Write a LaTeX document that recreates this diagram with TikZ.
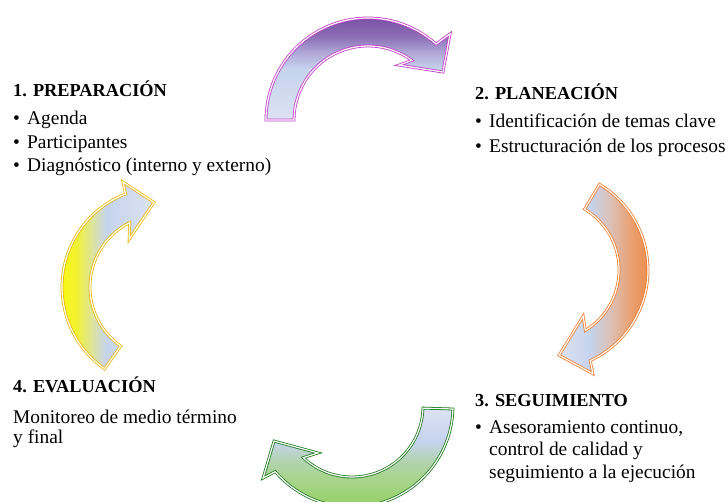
\documentclass[tikz,border=0pt]{standalone}
\usepackage{fontspec}
\setmainfont{Liberation Serif}
\usetikzlibrary{calc}

% fill colours of the four curved arrows
\definecolor{paleblue}{HTML}{DCE3F2}
\definecolor{midblue}{HTML}{C6D3EE}
\definecolor{pLav}{HTML}{B0A8D8}
\definecolor{pViolet}{HTML}{8C6EB6}
\definecolor{pDark}{HTML}{7A52A6}
\definecolor{oPeach}{HTML}{DCC0B4}
\definecolor{oLight}{HTML}{EAA070}
\definecolor{oDark}{HTML}{ED7D31}
\definecolor{gMix}{HTML}{B2D3B0}
\definecolor{gLight}{HTML}{A6D588}
\definecolor{gDark}{HTML}{92CF60}
\definecolor{yDark}{HTML}{FFFF00}
\definecolor{yLight}{HTML}{F2F230}
\definecolor{yMix}{HTML}{DDE3A0}
% outline colours
\definecolor{pLine}{HTML}{C040C8}
\definecolor{oLine}{HTML}{ED7D31}
\definecolor{gLine}{HTML}{1F7A1F}
\definecolor{yLine}{HTML}{E8B810}

% gradients (the 25bp--75bp band spans the filled shape)
\pgfdeclareverticalshading{purpleshade}{100bp}{color(0bp)=(paleblue); color(25bp)=(paleblue); color(50bp)=(midblue); color(58bp)=(pLav); color(66bp)=(pViolet); color(75bp)=(pDark); color(100bp)=(pDark)}
\pgfdeclarehorizontalshading{orangeshade}{100bp}{color(0bp)=(paleblue); color(25bp)=(paleblue); color(40bp)=(midblue); color(50bp)=(oPeach); color(60bp)=(oLight); color(75bp)=(oDark); color(100bp)=(oDark)}
\pgfdeclareverticalshading{greenshade}{100bp}{color(0bp)=(gDark); color(25bp)=(gDark); color(38.6bp)=(gLight); color(48.7bp)=(gMix); color(58.8bp)=(midblue); color(75bp)=(paleblue); color(100bp)=(paleblue)}
\pgfdeclarehorizontalshading{yellowshade}{100bp}{color(0bp)=(yDark); color(25bp)=(yDark); color(38bp)=(yLight); color(46bp)=(yMix); color(52.5bp)=(midblue); color(75bp)=(paleblue); color(100bp)=(paleblue)}

\tikzset{
  arrowbody/.style={line width=0.8pt, double=white, double distance=1.2pt, line join=miter, shade},
  purplearrow/.style={arrowbody, draw=pLine, shading=purpleshade},
  orangearrow/.style={arrowbody, draw=oLine, shading=orangeshade},
  greenarrow/.style={arrowbody, draw=gLine, shading=greenshade},
  yellowarrow/.style={arrowbody, draw=yLine, shading=yellowshade},
  headtext/.style={anchor=base west, inner sep=0pt, font=\fontsize{18.3}{20}\selectfont\bfseries},
  bodytext/.style={anchor=base west, inner sep=0pt, font=\fontsize{19.4}{22}\selectfont},
}

\begin{document}
\begin{tikzpicture}[x=1pt,y=1pt]
\useasboundingbox (0,0) rectangle (728,501);
\clip (0,0) rectangle (728,501);

% 1 -> 2 : purple arrow at the top
\begin{scope}[shift={(368,381)}]
  \path[purplearrow] (180:102) arc[start angle=180, end angle=48.1, radius=102]
    -- (46.4:119) -- (32.6:89) -- (60.6:63) -- (53.6:74)
    arc[start angle=53.6, end angle=180, radius=74] -- cycle;
\end{scope}

% 2 -> 3 : orange arrow on the right
\begin{scope}[shift={(548,231)}]
  \path[orangearrow] (59:100) arc[start angle=59, end angle=-65, radius=100]
    -- (-66.6:113) -- (-82.6:86) -- (-52.7:58) -- (-58.3:71)
    arc[start angle=-58.3, end angle=59, radius=71] -- cycle;
\end{scope}

% 3 -> 4 : green arrow at the bottom
\begin{scope}[shift={(352,95)}]
  \path[greenarrow] (-1.7:101) arc[start angle=-1.7, end angle=-139.5, radius=101]
    -- (-141:114.5) -- (-155.8:85.5) -- (-125.9:58) -- (-133.3:71)
    arc[start angle=-133.3, end angle=-1.7, radius=71] -- cycle;
\end{scope}

% 4 -> 1 : yellow arrow on the left
\begin{scope}[shift={(162,214)}]
  \path[yellowarrow] (235:100) arc[start angle=235, end angle=111.4, radius=100]
    -- (110.4:112) -- (95.4:85) -- (124.5:58) -- (116.6:72)
    arc[start angle=116.6, end angle=235, radius=72] -- cycle;
\end{scope}

% 1. Preparación
\node[headtext] (h1) at (13,404) {1. PREPARACIÓN};
\node[bodytext] (b1a) at (13,376) {•};
\node[bodytext] (t1a) at (27,376) {Agenda};
\node[bodytext] (b1b) at (13,352.5) {•};
\node[bodytext] (t1b) at (27,352.5) {Participantes};
\node[bodytext] (b1c) at (13,329) {•};
\node[bodytext] (t1c) at (27,329) {Diagnóstico (interno y externo)};

% 2. Planeación
\node[headtext] (h2) at (475,401) {2. PLANEACIÓN};
\node[bodytext] (b2a) at (475,373.7) {•};
\node[bodytext] (t2a) at (489,373.7) {Identificación de temas clave};
\node[bodytext] (b2b) at (475,348.7) {•};
\node[bodytext] (t2b) at (489,348.7) {Estructuración de los procesos};

% 3. Seguimiento
\node[headtext] (h3) at (475,95) {3. SEGUIMIENTO};
\node[bodytext] (b3) at (475,68) {•};
\node[bodytext] (t3a) at (489,68) {Asesoramiento continuo,};
\node[bodytext] (t3b) at (489,45.5) {control de calidad y};
\node[bodytext] (t3c) at (489,23) {seguimiento a la ejecución};

% 4. Evaluación
\node[headtext] (h4) at (13,109) {4. EVALUACIÓN};
\node[bodytext] (t4a) at (13,78) {Monitoreo de medio término};
\node[bodytext] (t4b) at (13,57.5) {y final};
\end{tikzpicture}
\end{document}
